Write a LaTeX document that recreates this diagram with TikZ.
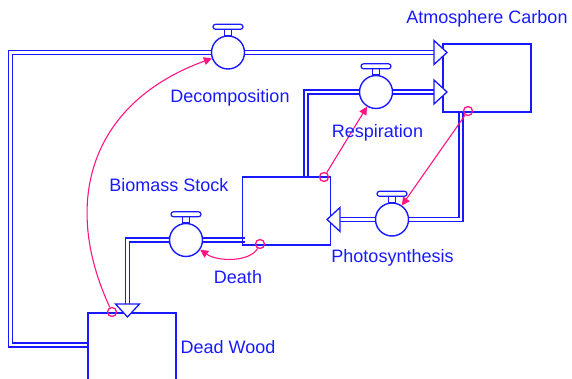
\documentclass[tikz,border=0pt]{standalone}
\usepackage{fontspec}
\setmainfont{Liberation Sans}
\usetikzlibrary{arrows.meta,calc,backgrounds}
\definecolor{simblue}{RGB}{25,25,255}
\definecolor{simpink}{RGB}{255,20,130}
\tikzset{
  stock/.style={draw=simblue, line width=1.5pt, rectangle, inner sep=0pt},
  valve/.style={draw=simblue, fill=white, line width=1.4pt, circle, minimum size=33pt, inner sep=0pt},
  pipe/.style={draw=simblue, double=white, line width=1.4pt, double distance=2.8pt},
  handle/.style={draw=simblue, fill=white, line width=1.2pt},
  flowtri/.style={draw=simblue, fill=white, line width=1.3pt, line join=miter},
  flowhead/.pic={\draw[flowtri] (-13,12) -- (0,0) -- (-13,-12) -- cycle;},
  infosrc/.style={draw=simpink, line width=1.3pt, circle, minimum size=9pt, inner sep=0pt},
  info/.style={draw=simpink, line width=1.1pt, -{Triangle[length=8pt,width=8pt]}},
  lbl/.style={text=simblue, font=\fontsize{18}{20}\selectfont, anchor=base, inner sep=0pt}
}
\begin{document}
\begin{tikzpicture}[x=1pt,y=1pt]
\useasboundingbox (0,0) rectangle (572,-379);
\clip (0,0) rectangle (572,-379);

% stocks
\node[stock, minimum width=88pt, minimum height=68pt] (atm) at (487,-78) {};
\node[stock, minimum width=88pt, minimum height=68pt] (biomass) at (286.7,-210.9) {};
\node[stock, minimum width=88pt, minimum height=94pt] (deadwood) at (132,-360) {};

% valves
\node[valve] (decomp) at (228,-52.5) {};
\node[valve] (resp) at (376,-92) {};
\node[valve] (photo) at (392,-219.5) {};
\node[valve] (death) at (186,-240) {};

\foreach \v in {decomp,resp,photo,death}{
  \draw[handle] ($(\v.north)+(-3.5,0)$) rectangle ($(\v.north)+(3.5,6)$);
  \draw[handle, rounded corners=2.5] ($(\v.north)+(-15,6)$) rectangle ($(\v.north)+(15,11)$);
}

% flows
\coordinate (dwout) at (88,-345);
\coordinate (dcbend1) at (10.5,-345);
\coordinate (dcbend2) at (10.5,-52.5);
\coordinate (rsout) at (306,-177);
\coordinate (phin) at (461,-112);
\coordinate (dtout) at (245,-240);
\coordinate (dtin) at (127.5,-313);
\begin{scope}[on background layer]
\draw[pipe] (dwout) -- (dcbend1) -- (dcbend2) -- (decomp.center) -- (decomp.center -| atm.west);
\draw[pipe] (rsout) |- (resp.center) -- (resp.center -| atm.west);
\draw[pipe] (phin) |- (photo.center) -- (photo.center -| biomass.east);
\draw[pipe] (dtout) -- (death.center) -| (dtin);
\end{scope}

\pic at (447,-52.5) {flowhead};
\pic at (447,-92) {flowhead};
\pic[rotate=180] at (327,-219.5) {flowhead};
\pic[rotate=-90] at (127.5,-317) {flowhead};

% information links
\node[infosrc] (dwsrc) at (112,-312) {};
\node[infosrc] (bmsrc1) at (324,-177) {};
\node[infosrc] (bmsrc2) at (260,-244) {};
\node[infosrc] (atmsrc) at (468,-111) {};
\draw[info] (dwsrc) .. controls (60,-200) and (92,-102) .. (decomp);
\draw[info] (bmsrc1) -- (resp);
\draw[info] (atmsrc) -- (photo);
\draw[info] (bmsrc2) .. controls (250,-262) and (218,-262) .. (death);

% labels
\node[lbl] (atmlbl) at (487,-24) {Atmosphere Carbon};
\node[lbl] (bmlbl) at (169,-192) {Biomass Stock};
\node[lbl] (dwlbl) at (228,-353) {Dead Wood};
\node[lbl] (dclbl) at (230,-103) {Decomposition};
\node[lbl] (rslbl) at (377.5,-138) {Respiration};
\node[lbl] (phlbl) at (392.5,-262) {Photosynthesis};
\node[lbl] (dtlbl) at (238,-283) {Death};
\end{tikzpicture}
\end{document}
